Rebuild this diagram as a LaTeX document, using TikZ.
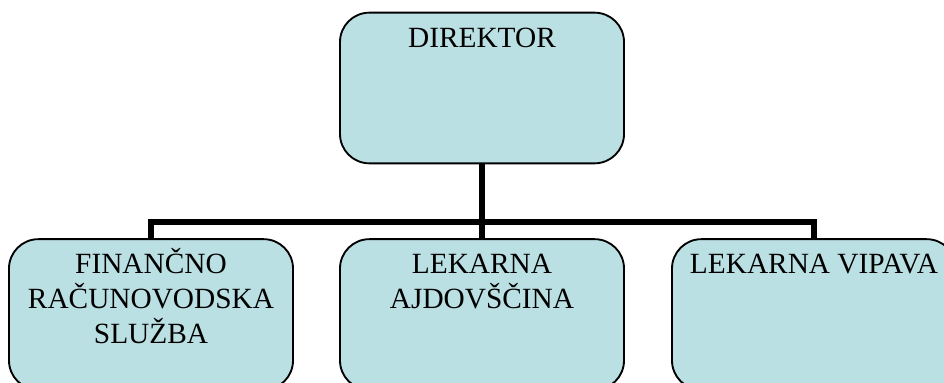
\documentclass[tikz,border=0pt]{standalone}
\usepackage{fontspec}
\setmainfont{Liberation Serif}
\definecolor{boxblue}{RGB}{187,224,227}
\newcommand{\boxtext}[1]{\parbox[c][113pt][t]{210pt}{\centering\rule{0pt}{26pt}#1}}
\tikzset{
	unit/.style={draw=black, line width=1.4pt, fill=boxblue, rounded corners=22pt, minimum width=213pt, minimum height=113pt, inner sep=0pt, font=\fontsize{22}{26}\selectfont},
	conn/.style={line width=4.2pt}
}
\begin{document}
\begin{tikzpicture}[x=0.75pt,y=-0.75pt]
			\useasboundingbox (0,0) rectangle (944,382);
			\node[unit] (dir) at(482,88){\boxtext{DIREKTOR}};
			\node[unit] (fin) at(151,314.5){\boxtext{FINANČNO\\RAČUNOVODSKA\\SLUŽBA}};
			\node[unit] (ajd) at(482,314.5){\boxtext{LEKARNA\\AJDOVŠČINA}};
			\node[unit] (vip) at(814,314.5){\boxtext{LEKARNA VIPAVA}};
			\coordinate (bus) at(482,222);
			\draw[conn](dir.south)--(bus);
			\draw[conn](fin.north)|-(bus)-|(vip.north);
			\draw[conn](bus)--(ajd.north);
		\end{tikzpicture}
\end{document}
